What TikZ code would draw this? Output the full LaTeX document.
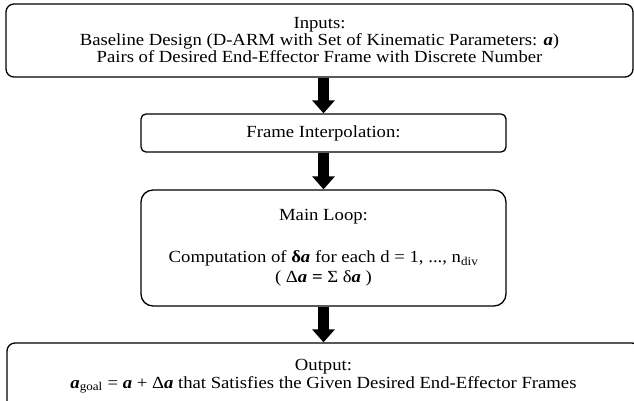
\documentclass[tikz,border=0pt]{standalone}
\usepackage{fontspec}
\setmainfont{Liberation Serif}[FakeStretch=1.1]
\usetikzlibrary{arrows.meta}
\newcommand{\va}{\textbf{\textit{a}}}
\begin{document}
\begin{tikzpicture}[x=1pt,y=1pt,
  box/.style={draw, line width=1.3pt, align=center, inner sep=0pt,
    font=\fontsize{17}{17}\selectfont},
  fat/.style={line width=11pt, -{Triangle[width=22pt,length=13pt]}}]
\useasboundingbox (0,0) rectangle (634,-400);
\clip (0,0) rectangle (634,-400);
\node[box, rounded corners=8pt, minimum width=627pt, minimum height=73pt] (in) at (319.5,-40.5)
  {Inputs:\\Baseline Design (D-ARM with Set of Kinematic Parameters: \va)\\Pairs of Desired End-Effector Frame with Discrete Number};
\node[box, rounded corners=5pt, minimum width=365pt, minimum height=38pt] (fi) at (323.5,-133)
  {Frame Interpolation:};
\node[box, rounded corners=12pt, minimum width=365pt, minimum height=116pt] (ml) at (323.5,-248)
  {Main Loop:\\[25pt]Computation of \textbf{δ\textit{a}} for each d = 1, ..., n\textsubscript{div}\\[3pt]( Δ\va\ \textbf{=} Σ δ\va\ )};
\node[box, rounded corners=8pt, minimum width=633pt, minimum height=66pt] (out) at (323.5,-376)
  {Output:\\[1pt]\va\textsubscript{goal} = \va\ + Δ\va\ that Satisfies the Given Desired End-Effector Frames};
\draw[fat] (fi.north |- in.south) -- (fi.north);
\draw[fat] (fi.south) -- (ml.north);
\draw[fat] (ml.south) -- (out.north);
\end{tikzpicture}
\end{document}
